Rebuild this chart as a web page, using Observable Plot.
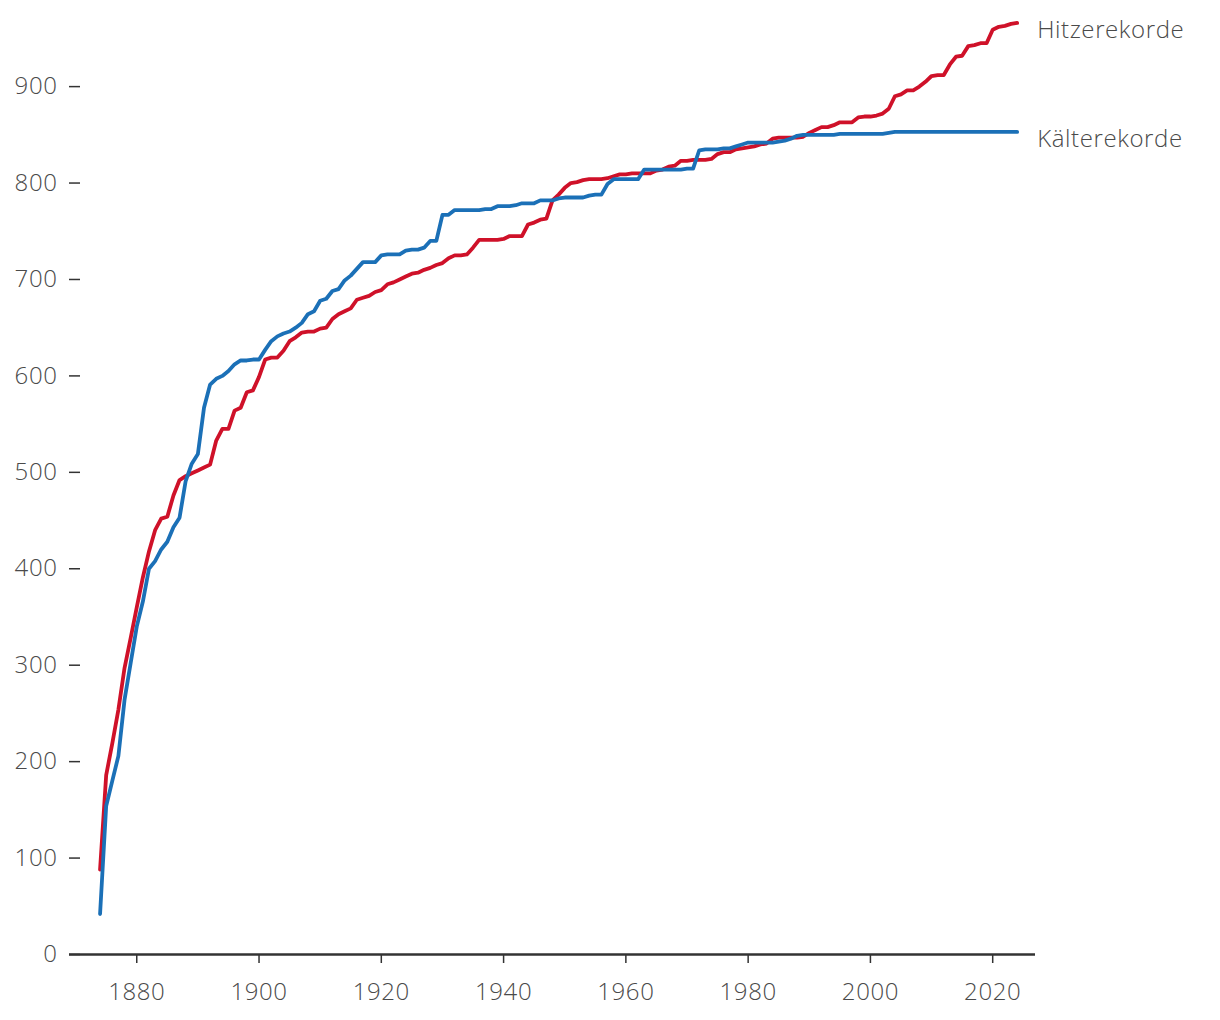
<!DOCTYPE html>
<html><head><meta charset="utf-8">
<script src="https://cdn.jsdelivr.net/npm/d3@7"></script>
<script src="https://cdn.jsdelivr.net/npm/@observablehq/plot@0.6"></script>
<style>
body{margin:0;background:#fff;}
#chart svg{display:block;}
#chart svg text{font-weight:300;letter-spacing:0.6px;}
</style></head><body><div id="chart"></div>
<script>
const years = [
1874,1875,1876,1877,1878,1879,1880,1881,1882,1883,1884,1885,1886,1887,1888,1889,
1890,1891,1892,1893,1894,1895,1896,1897,1898,1899,1900,1901,1902,1903,1904,1905,
1906,1907,1908,1909,1910,1911,1912,1913,1914,1915,1916,1917,1918,1919,1920,1921,
1922,1923,1924,1925,1926,1927,1928,1929,1930,1931,1932,1933,1934,1935,1936,1937,
1938,1939,1940,1941,1942,1943,1944,1945,1946,1947,1948,1949,1950,1951,1952,1953,
1954,1955,1956,1957,1958,1959,1960,1961,1962,1963,1964,1965,1966,1967,1968,1969,
1970,1971,1972,1973,1974,1975,1976,1977,1978,1979,1980,1981,1982,1983,1984,1985,
1986,1987,1988,1989,1990,1991,1992,1993,1994,1995,1996,1997,1998,1999,2000,2001,
2002,2003,2004,2005,2006,2007,2008,2009,2010,2011,2012,2013,2014,2015,2016,2017,
2018,2019,2020,2021,2022,2023,2024];
// Hitzerekorde (heat records), cumulative
const hitze = [
88,186,219,254,297,328,360,391,418,440,452,454,476,492,496,499,
502,505,508,533,545,545,564,567,583,585,599,617,619,619,626,636,
640,645,646,646,649,650,659,664,667,670,679,681,683,687,689,695,
697,700,703,706,707,710,712,715,717,722,725,725,726,733,741,741,
741,741,742,745,745,745,757,759,762,763,782,788,795,800,801,803,
804,804,804,805,807,809,809,810,810,810,810,813,814,817,818,823,
823,824,824,824,825,830,832,832,835,836,837,838,840,841,846,847,
847,847,847,848,852,855,858,858,860,863,863,863,868,869,869,870,
872,877,890,892,896,896,900,905,911,912,912,923,931,932,942,943,
945,945,959,962,963,965,966];
// Kälterekorde (cold records), cumulative
const kaelte = [
42,154,180,206,264,302,340,366,400,408,420,428,443,453,491,509,
519,567,591,597,600,605,612,616,616,617,617,627,636,641,644,646,
650,655,664,667,678,680,688,690,699,704,711,718,718,718,725,726,
726,726,730,731,731,733,740,740,767,767,772,772,772,772,772,773,
773,776,776,776,777,779,779,779,782,782,782,784,785,785,785,785,
787,788,788,799,804,804,804,804,804,814,814,814,814,814,814,814,
815,815,834,835,835,835,836,836,838,840,842,842,842,842,842,843,
844,846,849,850,850,850,850,850,850,851,851,851,851,851,851,851,
851,852,853,853,853,853,853,853,853,853,853,853,853,853,853,853,
853,853,853,853,853,853,853];
const seriesNames = ["Hitzerekorde", "Kälterekorde"];
const seriesColors = ["#cf1129", "#1b70b7"];
const xTicks = [1880, 1900, 1920, 1940, 1960, 1980, 2000, 2020];
const yTicks = [0, 100, 200, 300, 400, 500, 600, 700, 800, 900];

const data = [];
years.forEach((yr, i) => {
  data.push({year: yr, value: hitze[i], series: seriesNames[0]});
  data.push({year: yr, value: kaelte[i], series: seriesNames[1]});
});
const last = seriesNames.map(s => data.filter(d => d.series === s).at(-1));

const chart = Plot.plot({
  width: 1220, height: 1020,
  marginLeft: 69, marginRight: 185, marginTop: 21.5, marginBottom: 66,
  style: {fontFamily: "'Open Sans', sans-serif", fontSize: "24px", color: "#4a4a4a", background: "#fff"},
  x: {domain: [1869, 2027], label: null},
  y: {domain: [0, 967], label: null},
  color: {domain: seriesNames, range: seriesColors},
  marks: [
    Plot.axisX({ticks: xTicks, tickSize: 9, tickPadding: 19, tickFormat: d => String(d), label: null, stroke: "#333", strokeWidth: 1.5, fill: "#4a4a4a"}),
    Plot.axisY({ticks: yTicks, tickSize: -11, tickFormat: () => "", label: null, stroke: "#333", strokeWidth: 1.5}),
    Plot.axisY({ticks: yTicks, tickSize: 0, tickPadding: 12, label: null, fill: "#4a4a4a"}),
    Plot.ruleY([0], {stroke: "#333", strokeWidth: 2.5}),
    Plot.line(data, {x: "year", y: "value", z: "series", stroke: "series", strokeWidth: 3.8, strokeLinejoin: "round", strokeLinecap: "round"}),
    Plot.text(last, {x: "year", y: "value", text: "series", textAnchor: "start", dx: 20, dy: 7, fill: "#4a4a4a", fontSize: 24})
  ]
});
document.getElementById("chart").appendChild(chart);
</script>
</body></html>
